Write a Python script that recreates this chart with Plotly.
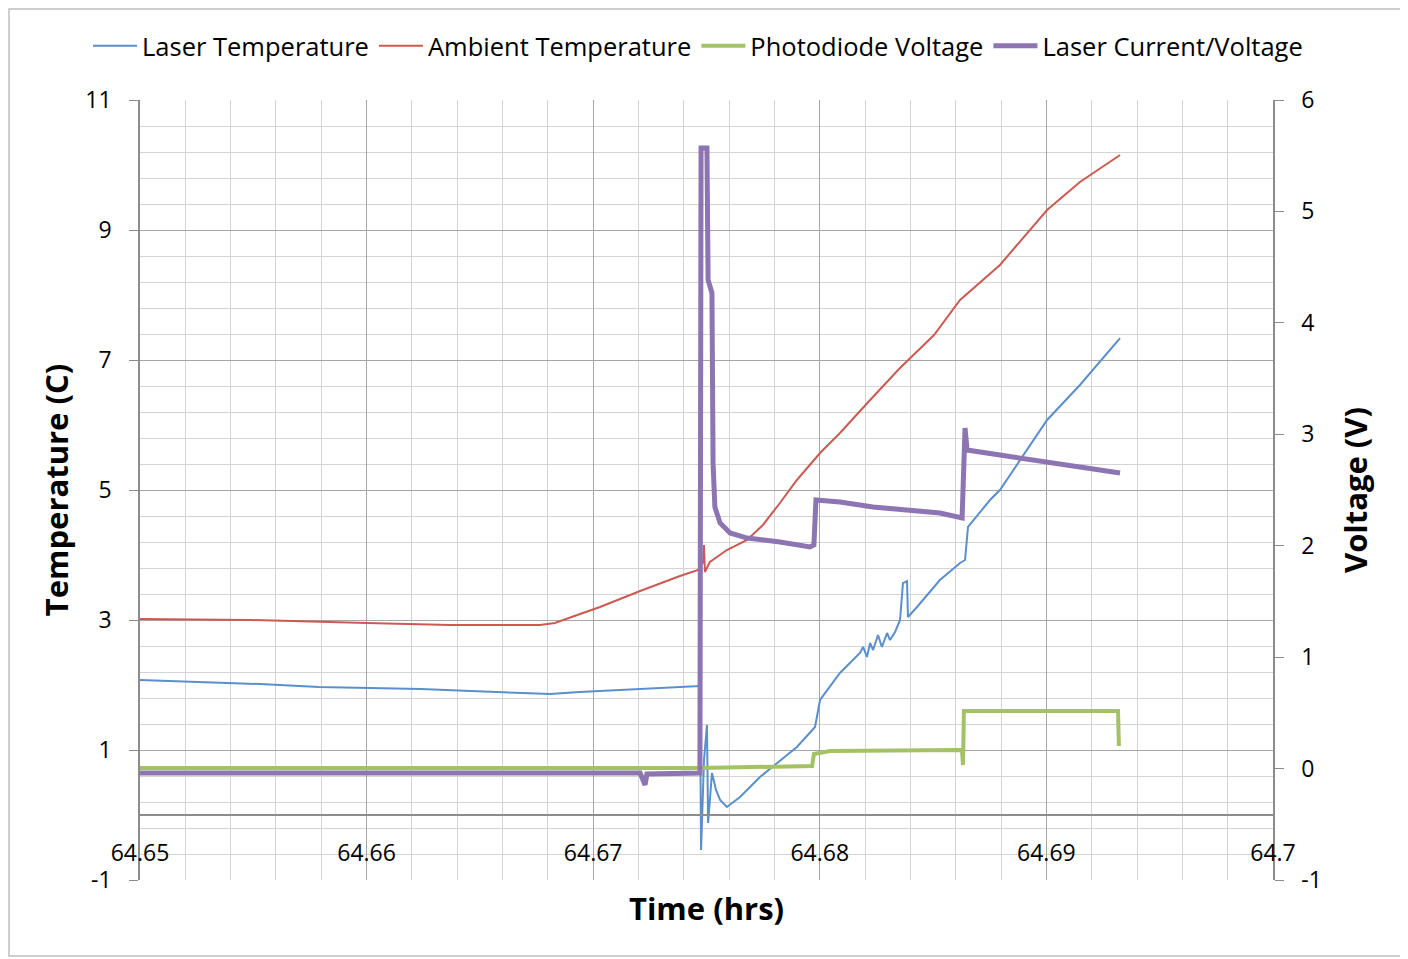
import plotly.graph_objects as go

# ---------------- data ----------------
laser_t = [64.6500, 64.65265, 64.6553, 64.6579, 64.6600, 64.6624, 64.6646, 64.6668,
           64.6681, 64.6694, 64.6712, 64.6729, 64.6746, 64.67471, 64.67476, 64.67489,
           64.67502, 64.67507, 64.67515, 64.67524, 64.67542, 64.67560, 64.67590, 64.67648,
           64.67736, 64.67811, 64.67899, 64.67979, 64.68001, 64.68089, 64.68177, 64.68191,
           64.68208, 64.68222, 64.68235, 64.68257, 64.68274, 64.68297, 64.68310, 64.68332,
           64.68354, 64.68367, 64.68385, 64.68389, 64.68429, 64.68530, 64.68619, 64.68641,
           64.68654, 64.68751, 64.68795, 64.69003, 64.69148, 64.69325]
laser_temp = [2.077, 2.046, 2.015, 1.969, 1.954, 1.938, 1.908, 1.877,
              1.862, 1.892, 1.923, 1.954, 1.985, 1.985, -0.538, 0.846,
              1.385, -0.123, 0.231, 0.646, 0.385, 0.231, 0.123, 0.277,
              0.585, 0.800, 1.046, 1.354, 1.769, 2.185, 2.492, 2.585,
              2.431, 2.646, 2.538, 2.769, 2.585, 2.800, 2.692, 2.815,
              3.000, 3.569, 3.600, 3.046, 3.200, 3.615, 3.877, 3.923,
              4.431, 4.846, 5.000, 6.077, 6.615, 7.338]

amb_t = [64.6500, 64.65485, 64.6600, 64.66368, 64.66765, 64.66831, 64.66942, 64.67030,
         64.67207, 64.67383, 64.67463, 64.67485, 64.67489, 64.67493, 64.67515, 64.67590,
         64.67679, 64.67749, 64.67824, 64.67899, 64.68001, 64.68089, 64.68222, 64.68354,
         64.68504, 64.68619, 64.68795, 64.69003, 64.69148, 64.69325]
amb_temp = [3.015, 3.000, 2.954, 2.923, 2.923, 2.954, 3.092, 3.200,
            3.446, 3.677, 3.769, 3.892, 4.154, 3.738, 3.892, 4.077,
            4.231, 4.462, 4.800, 5.154, 5.569, 5.877, 6.385, 6.877,
            7.385, 7.923, 8.462, 9.308, 9.738, 10.154]

pd_t = [64.6500, 64.67471, 64.67966, 64.67974, 64.68045, 64.68619, 64.68628,
        64.68632, 64.68636, 64.69316, 64.69320]
pd_volt = [0.005, 0.005, 0.023, 0.131, 0.158, 0.167, 0.150,
           0.032, 0.517, 0.517, 0.203]

lc_t = [64.6500, 64.67207, 64.67229, 64.67237, 64.67471, 64.67476, 64.67502, 64.67507,
        64.67524, 64.67529, 64.67537, 64.67560, 64.67604, 64.67679, 64.67824, 64.67957,
        64.67974, 64.67983, 64.68089, 64.68235, 64.68530, 64.68628, 64.68641, 64.68650,
        64.68795, 64.69003, 64.69148, 64.69325]
lc_volt = [-0.040, -0.040, -0.147, -0.049, -0.040, 5.569, 5.569, 4.385,
           4.268, 2.742, 2.347, 2.204, 2.114, 2.069, 2.033, 1.989,
           2.007, 2.410, 2.392, 2.348, 2.294, 2.249, 3.056, 2.859,
           2.814, 2.751, 2.697, 2.653]

x_ticks = [64.65, 64.66, 64.67, 64.68, 64.69, 64.70]
x_ticktext = ["64.65", "64.66", "64.67", "64.68", "64.69", "64.7"]
temp_ticks = [-1, 1, 3, 5, 7, 9, 11]
temp_ticktext = ["-1", "1", "3", "5", "7", "9", "11"]
volt_ticks = [-1, 0, 1, 2, 3, 4, 5, 6]
volt_ticktext = ["-1", "0", "1", "2", "3", "4", "5", "6"]

# ---------------- figure ----------------
FONT = "Open Sans"
MAJOR = "#a6a6a6"
MINOR = "#d4d4d4"
AXIS = "#8c8c8c"
TICKFONT = dict(family=FONT, size=23, color="black")
TITLEFONT = dict(family=FONT, size=31, color="black")

fig = go.Figure()
fig.add_trace(go.Scatter(x=laser_t, y=laser_temp, name="Laser Temperature", mode="lines",
                         line=dict(color="#5a8fcc", width=2), yaxis="y"))
fig.add_trace(go.Scatter(x=amb_t, y=amb_temp, name="Ambient Temperature", mode="lines",
                         line=dict(color="#cc5a52", width=2), yaxis="y"))
fig.add_trace(go.Scatter(x=pd_t, y=pd_volt, name="Photodiode Voltage", mode="lines",
                         line=dict(color="#a2c265", width=4), yaxis="y2"))
fig.add_trace(go.Scatter(x=lc_t, y=lc_volt, name="Laser Current/Voltage", mode="lines",
                         line=dict(color="#8d74b3", width=5), yaxis="y2"))

fig.update_layout(
    width=1400, height=951,
    margin=dict(l=132, r=135, t=92, b=79, autoexpand=False),
    paper_bgcolor="white", plot_bgcolor="white",
    font=dict(family=FONT, size=23, color="black"),
    showlegend=True,
    legend=dict(orientation="h", xref="paper", yref="paper",
                x=-0.0459, xanchor="left", y=1.069, yanchor="middle",
                font=dict(family=FONT, size=25.5), itemwidth=44, bgcolor="rgba(0,0,0,0)"),
    xaxis=dict(range=[64.65, 64.70], tickvals=x_ticks, ticktext=x_ticktext, tickfont=TICKFONT,
               showgrid=True, gridcolor=MAJOR, gridwidth=1,
               minor=dict(dtick=0.002, tick0=64.65, showgrid=True, gridcolor=MINOR, gridwidth=1),
               showline=True, linecolor=AXIS, linewidth=1.5,
               anchor="free", position=1/12, ticks="", ticklabelstandoff=18,
               zeroline=False,
               title=dict(text="<b>Time (hrs)</b>", font=TITLEFONT, standoff=30)),
    yaxis=dict(range=[-1, 11], tickvals=temp_ticks, ticktext=temp_ticktext, tickfont=TICKFONT,
               showgrid=True, gridcolor=MAJOR,
               minor=dict(dtick=0.4, tick0=-1, showgrid=True, gridcolor=MINOR),
               showline=True, linecolor=AXIS, linewidth=1.5, ticks="outside", ticklen=9,
               tickcolor=AXIS, ticklabelstandoff=13, zeroline=False,
               title=dict(text="<b>Temperature (C)</b>", font=TITLEFONT, standoff=7)),
    yaxis2=dict(range=[-1, 6], tickvals=volt_ticks, ticktext=volt_ticktext, tickfont=TICKFONT,
                overlaying="y", side="right", anchor="x",
                showgrid=False, showline=True, linecolor=AXIS, linewidth=1.5,
                ticks="outside", ticklen=9, tickcolor=AXIS, ticklabelstandoff=13, zeroline=False,
                title=dict(text="<b>Voltage (V)</b>", font=TITLEFONT, standoff=24)),
    shapes=[dict(type="rect", xref="paper", yref="paper",
                 x0=-0.1156, x1=1.1165, y0=-0.0974, y1=1.1167,
                 line=dict(color="#bfbfbf", width=1.5), fillcolor="rgba(0,0,0,0)", layer="below")],
)

fig.write_html("out.html")
